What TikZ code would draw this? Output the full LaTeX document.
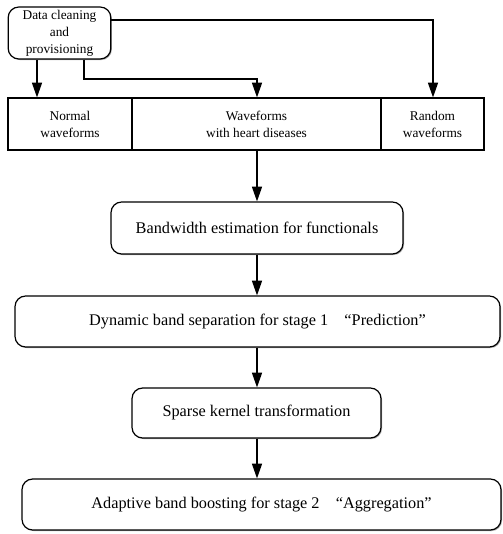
\documentclass[tikz,border=0pt]{standalone}
\usepackage{fontspec}
\setmainfont{Liberation Serif}
\usetikzlibrary{arrows.meta,shadows}
\begin{document}
\begin{tikzpicture}[x=0.75pt,y=-0.75pt,
  arr/.style={line width=0.9pt,-{Triangle[length=11pt,width=7.5pt]}},
  ln/.style={line width=0.9pt},
  rbox/.style={draw,line width=0.9pt,rounded corners=8pt,fill=white,
    drop shadow={shadow xshift=0.8pt,shadow yshift=-0.8pt,fill=gray!70,opacity=1},
    inner sep=0pt,font=\fontsize{12.2}{14}\selectfont},
  sbox/.style={draw,line width=0.9pt,inner sep=0pt,align=center,
    font=\fontsize{10}{12.8}\selectfont}]
\useasboundingbox (0,0) rectangle (502,534);
% top box
\node[rbox,minimum width=77pt,minimum height=39pt,align=center,
  font=\fontsize{10}{12.8}\selectfont] (data) at (59.5,33)
  {Data cleaning\\and\\provisioning};
% row
\node[sbox,minimum width=93pt,minimum height=39pt] (n1) at (70,124) {Normal\\waveforms};
\node[sbox,minimum width=186.75pt,minimum height=39pt] (n2) at (256.5,124) {Waveforms\\with heart diseases};
\node[sbox,minimum width=77.25pt,minimum height=39pt] (n3) at (432.5,124) {Random\\waveforms};
% steps
\node[rbox,minimum width=219pt,minimum height=39pt] (bw) at (257,228) {Bandwidth estimation for functionals};
\node[rbox,minimum width=363.75pt,minimum height=38.25pt] (dyn) at (257.5,321.5) {Dynamic band separation for stage 1\hspace{1em}“Prediction”};
\node[rbox,minimum width=186.75pt,minimum height=37.5pt] (sp) at (256.5,413) {Sparse kernel transformation};
\node[rbox,minimum width=359.25pt,minimum height=38.25pt] (ada) at (261.5,504.5) {Adaptive band boosting for stage 2\hspace{1em}“Aggregation”};
% coordinates
\coordinate (c37) at (37,0);
\coordinate (c84) at (84,0);
\coordinate (c79) at (0,79);
\coordinate (c20) at (0,20);
\coordinate (c433) at (433,0);
\coordinate (c257) at (257,0);
% connectors
\draw[arr] (data.south -| c37) -- (c37 |- n1.north);
\draw[arr] (data.south -| c84) -- (c84 |- c79) -- (c257 |- c79) -- (c257 |- n2.north);
\draw[arr] (data.east |- c20) -- (c433 |- c20) -- (c433 |- n3.north);
\draw[arr] (c257 |- n2.south) -- (c257 |- bw.north);
\draw[arr] (c257 |- bw.south) -- (c257 |- dyn.north);
\draw[arr] (c257 |- dyn.south) -- (c257 |- sp.north);
\draw[arr] (c257 |- sp.south) -- (c257 |- ada.north);
\end{tikzpicture}
\end{document}
